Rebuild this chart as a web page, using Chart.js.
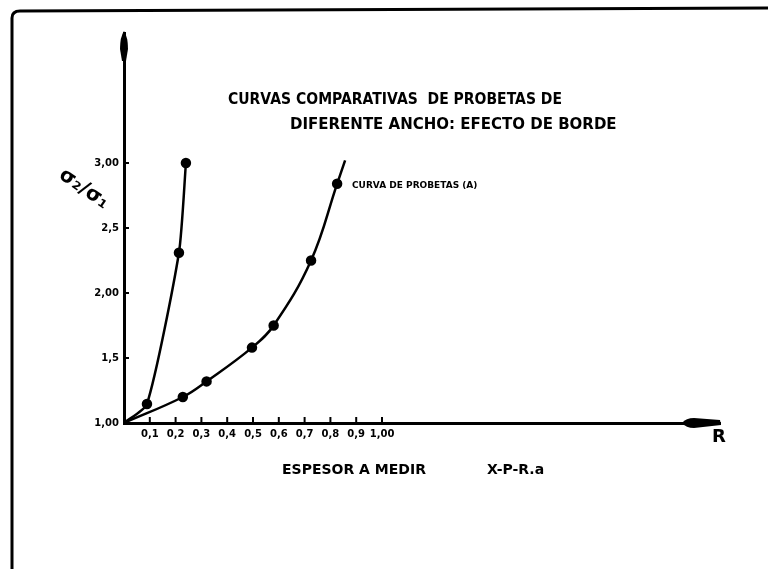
<!DOCTYPE html>
<html>
<head>
<meta charset="utf-8">
<script src="https://cdn.jsdelivr.net/npm/chart.js@4/dist/chart.umd.min.js"></script>
<style>
  html, body { margin: 0; padding: 0; background: #fff; }
  #c { display: block; }
</style>
</head>
<body>
<canvas id="c" width="768" height="569"></canvas>
<script>
// ---- data ----
const xTicks = [0.1, 0.2, 0.3, 0.4, 0.5, 0.6, 0.7, 0.8, 0.9, 1.0];
const xTickLabels = ["0,1", "0,2", "0,3", "0,4", "0,5", "0,6", "0,7", "0,8", "0,9", "1,00"];
const yTicks = [1.0, 1.5, 2.0, 2.5, 3.0];
const yTickLabels = ["1,00", "1,5", "2,00", "2,5", "3,00"];

// narrow specimens (steep curve)
const curve1X = [0, 0.089, 0.213, 0.24];
const curve1Y = [1.0, 1.146, 2.31, 3.0];
const curve1Marked = [false, true, true, true];

// probetas (A)
const curve2X = [0, 0.228, 0.32, 0.496, 0.58, 0.725, 0.826, 0.857];
const curve2Y = [1.0, 1.2, 1.32, 1.58, 1.75, 2.25, 2.84, 3.02];
const curve2Marked = [false, true, true, true, true, true, true, false];

const titleLine1 = "CURVAS COMPARATIVAS  DE PROBETAS DE";
const titleLine2 = "DIFERENTE ANCHO: EFECTO DE BORDE";
const curveLabel = "CURVA DE PROBETAS (A)";
const yAxisLabel = "σ₂/σ₁";
const xAxisLabel = "ESPESOR A MEDIR";
const xAxisNote = "X-P-R.a";
const xAxisLetter = "R";

const X_MIN = 0, X_MAX = 2.31, Y_MIN = 1.0, Y_MAX = 4.0;

const FONT = '"DejaVu Sans", "Liberation Sans", sans-serif';

function toPoints(xs, ys) { return xs.map((x, i) => ({ x: x, y: ys[i] })); }

const decor = {
  id: 'decor',
  beforeDraw(chart) {
    const ctx = chart.ctx;
    ctx.save();
    ctx.fillStyle = '#fff';
    ctx.fillRect(0, 0, chart.width, chart.height);
    // frame (top + left edges of the sheet)
    ctx.strokeStyle = '#000';
    ctx.lineWidth = 3;
    ctx.lineJoin = 'round';
    ctx.beginPath();
    ctx.moveTo(12, 569);
    ctx.lineTo(12, 18);
    ctx.quadraticCurveTo(12, 11, 20, 11);
    ctx.lineTo(768, 8);
    ctx.stroke();
    ctx.restore();
  },
  afterDraw(chart) {
    const ctx = chart.ctx;
    const xs = chart.scales.x, ys = chart.scales.y;
    const ax = xs.getPixelForValue(0);
    const ay = ys.getPixelForValue(Y_MIN);
    ctx.save();
    ctx.fillStyle = '#000';
    ctx.strokeStyle = '#000';

    // tick marks
    ctx.lineWidth = 2;
    xTicks.forEach(v => {
      const px = xs.getPixelForValue(v);
      ctx.beginPath(); ctx.moveTo(px, ay - 6); ctx.lineTo(px, ay); ctx.stroke();
    });
    yTicks.forEach(v => {
      const py = ys.getPixelForValue(v);
      ctx.beginPath(); ctx.moveTo(ax, py); ctx.lineTo(ax + 5, py); ctx.stroke();
    });

    // y-axis arrow head (top)
    const ty = ys.getPixelForValue(Y_MAX);
    ctx.beginPath();
    ctx.moveTo(ax, ty - 2);
    ctx.quadraticCurveTo(ax + 4, ty + 4, ax + 4, ty + 16);
    ctx.lineTo(ax + 2, ty + 28);
    ctx.lineTo(ax - 2, ty + 28);
    ctx.lineTo(ax - 4, ty + 16);
    ctx.quadraticCurveTo(ax - 4, ty + 4, ax, ty - 2);
    ctx.fill();

    // x-axis arrow (right)
    const rx = xs.getPixelForValue(X_MAX);
    ctx.beginPath();
    ctx.moveTo(rx - 38, ay);
    ctx.quadraticCurveTo(rx - 34, ay - 5, rx - 26, ay - 5);
    ctx.lineTo(rx, ay - 3);
    ctx.lineTo(rx + 1, ay + 2);
    ctx.lineTo(rx - 26, ay + 5);
    ctx.quadraticCurveTo(rx - 34, ay + 5, rx - 38, ay);
    ctx.fill();

    // texts
    ctx.textBaseline = 'alphabetic';
    ctx.textAlign = 'left';
    ctx.font = 'bold 15px ' + FONT;
    ctx.fillText(titleLine1, 228, 104, 334);
    ctx.fillText(titleLine2, 290, 129, 330);

    ctx.font = 'bold 9px ' + FONT;
    ctx.fillText(curveLabel, 352, 188, 131);

    ctx.font = 'bold 14px ' + FONT;
    ctx.fillText(xAxisLabel, 282, 474, 152);
    ctx.fillText(xAxisNote, 487, 474, 64);

    ctx.font = 'bold 18px ' + FONT;
    ctx.fillText(xAxisLetter, 712, 442);

    // y axis label, slanted
    ctx.save();
    ctx.translate(84, 189);
    ctx.rotate(35 * Math.PI / 180);
    ctx.textAlign = 'center';
    ctx.textBaseline = 'middle';
    ctx.font = 'bold 20px ' + FONT;
    ctx.fillText(yAxisLabel, 0, 0);
    ctx.restore();

    ctx.restore();
  }
};

const ctx = document.getElementById('c').getContext('2d');
new Chart(ctx, {
  type: 'scatter',
  data: {
    datasets: [
      {
        data: toPoints(curve1X, curve1Y),
        showLine: true,
        borderColor: '#000',
        backgroundColor: '#000',
        borderWidth: 2.5,
        tension: 0.2,
        pointRadius: curve1Marked.map(m => m ? 4 : 0),
        pointBackgroundColor: '#000',
        pointBorderColor: '#000'
      },
      {
        data: toPoints(curve2X, curve2Y),
        showLine: true,
        borderColor: '#000',
        backgroundColor: '#000',
        borderWidth: 2.5,
        tension: 0.4,
        pointRadius: curve2Marked.map(m => m ? 4 : 0),
        pointBackgroundColor: '#000',
        pointBorderColor: '#000'
      }
    ]
  },
  options: {
    responsive: false,
    animation: false,
    clip: false,
    layout: { padding: { top: 33, right: 48, left: 0, bottom: 0 } },
    plugins: { legend: { display: false }, tooltip: { enabled: false }, title: { display: false } },
    scales: {
      x: {
        type: 'linear',
        min: X_MIN, max: X_MAX,
        afterFit(s) { s.height = 146; },
        afterBuildTicks(s) { s.ticks = xTicks.map(v => ({ value: v })); },
        grid: { display: true, drawOnChartArea: false, drawTicks: false },
        border: { display: true, color: '#000', width: 3 },
        ticks: {
          padding: 5,
          color: '#000',
          font: { family: FONT, size: 10, weight: 'bold' },
          maxRotation: 0, autoSkip: false,
          callback: (v, i) => xTickLabels[i]
        }
      },
      y: {
        type: 'linear',
        min: Y_MIN, max: Y_MAX,
        afterFit(s) { s.width = 124; },
        afterBuildTicks(s) { s.ticks = yTicks.map(v => ({ value: v })); },
        grid: { display: true, drawOnChartArea: false, drawTicks: false },
        border: { display: true, color: '#000', width: 3 },
        ticks: {
          padding: 5,
          color: '#000',
          font: { family: FONT, size: 10, weight: 'bold' },
          autoSkip: false,
          callback: (v, i) => yTickLabels[i]
        }
      }
    }
  },
  plugins: [decor]
});
</script>
</body>
</html>
